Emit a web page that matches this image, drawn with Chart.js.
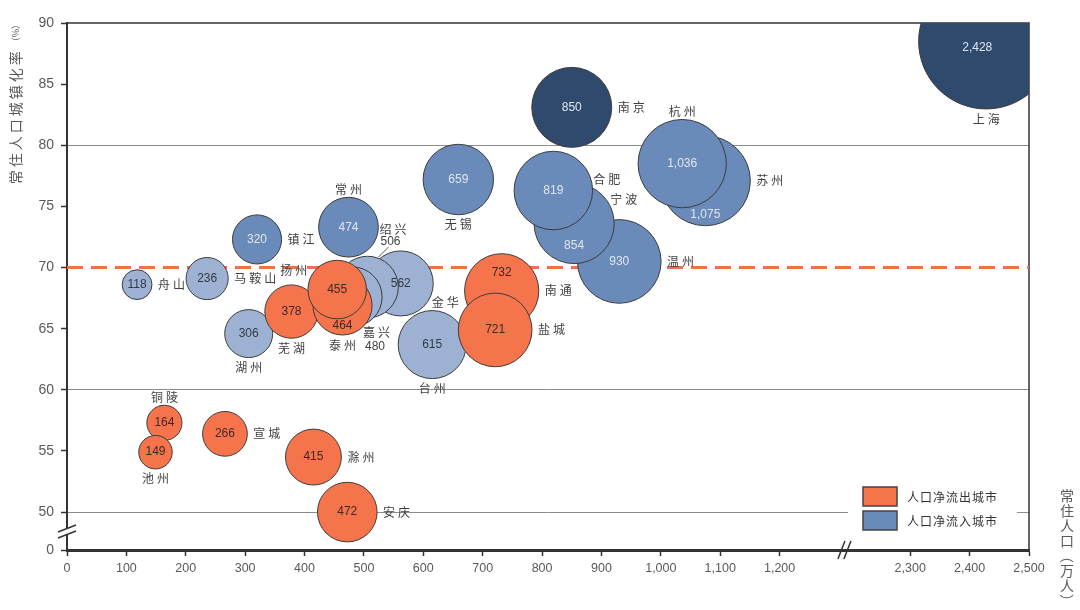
<!DOCTYPE html>
<html>
<head>
<meta charset="utf-8">
<script src="https://cdn.jsdelivr.net/npm/chart.js@4.4.1/dist/chart.umd.min.js"></script>
<style>
  body { margin: 0; background: #fff; }
  #wrap { width: 1080px; height: 610px; }
</style>
</head>
<body>
<div id="wrap"><canvas id="bubbleChart"></canvas></div>
<script>
// net outflow cities (orange)
const outCities = ['铜陵', '池州', '宣城', '滁州', '安庆', '芜湖', '泰州', '扬州', '南通', '盐城'];
const outPop = [164, 149, 266, 415, 472, 378, 464, 455, 732, 721];
const outRate = [57.3, 54.9, 56.4, 54.5, 50.0, 66.4, 66.9, 68.2, 68.1, 64.9];

// net inflow cities, mid blue
const inCities = ['镇江', '常州', '无锡', '温州', '宁波', '合肥', '苏州', '杭州'];
const inPop = [320, 474, 659, 930, 854, 819, 1075, 1036];
const inRate = [72.3, 73.3, 77.2, 70.5, 73.6, 76.3, 77.1, 78.5];

// net inflow cities, light blue
const lightCities = ['舟山', '马鞍山', '湖州', '台州', '金华', '绍兴', '嘉兴'];
const lightPop = [118, 236, 306, 615, 562, 506, 480];
const lightRate = [68.6, 69.1, 64.6, 63.7, 68.7, 68.4, 67.6];

// net inflow cities, dark
const topCities = ['南京', '上海'];
const topPop = [850, 2428];
const topRate = [83.1, 88.5];

const xTicks = [0, 100, 200, 300, 400, 500, 600, 700, 800, 900, 1000, 1100, 1200, 2300, 2400, 2500];
const yTicks = [0, 50, 55, 60, 65, 70, 75, 80, 85, 90];
const refRate = 70;

// broken axes: 1300..2180 hidden on x, 0..46.9 squeezed on y
const X_CUT = 1300, X_SHIFT = 880;
const Y_SHIFT = 46.9;
const xPos = v => v > X_CUT ? v - X_SHIFT : v;
const yPos = v => v === 0 ? 0 : v - Y_SHIFT;
const R_SCALE = 1.372;

const ORANGE = '#F5744C', MID = '#6A8AB9', LIGHT = '#9DB1D3', NAVY = '#304A6D';

function makePoints(pops, rates) {
    return pops.map((p, i) => ({ x: xPos(p), y: yPos(rates[i]), r: R_SCALE * Math.sqrt(p) }));
}

// label placement for city names
const namePlace = {
    '铜陵': 'top', '池州': 'bottom', '宣城': 'right', '滁州': 'right', '安庆': 'right',
    '芜湖': 'bottom', '泰州': 'bottom', '扬州': [-42, -19], '南通': 'right', '盐城': 'right',
    '舟山': 'right', '马鞍山': 'right', '湖州': 'bottom', '台州': 'bottom', '金华': [46, 19],
    '绍兴': [27, -58], '嘉兴': [26, 36],
    '镇江': 'right', '常州': 'top', '无锡': 'bottom', '温州': 'right', '宁波': [51, -24],
    '合肥': [55, -11], '苏州': 'right', '杭州': 'top', '南京': 'right', '上海': 'bottom'
};
const valueShift = { '泰州': [0, 20], '南通': [0, -18], '宁波': [0, 22], '苏州': [0, 34], '上海': [-9, 6] };
const valueOutside = { '绍兴': [23, -45], '嘉兴': [23, 50] };

const fmt = n => n.toLocaleString('en-US');

const labelPlugin = {
    id: 'bubbleLabels',
    afterDatasetsDraw(chart) {
        const ctx = chart.ctx;
        ctx.save();
        ctx.textBaseline = 'middle';
        chart.data.datasets.forEach((ds, di) => {
            const meta = chart.getDatasetMeta(di);
            meta.data.forEach((pt, i) => {
                const name = ds.names[i];
                const r = ds.data[i].r;
                const cx = pt.x, cy = pt.y;
                // value
                ctx.letterSpacing = '0px';
                ctx.font = '12px "Liberation Sans", Arial, sans-serif';
                if (valueOutside[name]) {
                    const o = valueOutside[name];
                    ctx.fillStyle = '#404040';
                    ctx.textAlign = 'center';
                    ctx.fillText(fmt(ds.pops[i]), cx + o[0], cy + o[1]);
                } else {
                    const s = valueShift[name] || [0, 0];
                    ctx.fillStyle = ds.textColor;
                    ctx.textAlign = 'center';
                    ctx.fillText(fmt(ds.pops[i]), cx + s[0], cy + s[1]);
                }
                // city name
                ctx.font = '12px "Noto Sans CJK SC", sans-serif';
                ctx.letterSpacing = '3px';
                ctx.fillStyle = '#404040';
                const p = namePlace[name];
                if (p === 'right') {
                    ctx.textAlign = 'left';
                    ctx.fillText(name, cx + r + 6, cy);
                } else if (p === 'top') {
                    ctx.textAlign = 'center';
                    ctx.fillText(name, cx + 1.5, cy - r - 8);
                } else if (p === 'bottom') {
                    ctx.textAlign = 'center';
                    ctx.fillText(name, cx + 1.5, cy + r + 10);
                } else {
                    ctx.textAlign = 'center';
                    ctx.fillText(name, cx + p[0], cy + p[1]);
                }
                if (name === '绍兴') {
                    ctx.strokeStyle = '#555';
                    ctx.lineWidth = 1;
                    ctx.beginPath();
                    ctx.moveTo(cx + 21, cy - 40);
                    ctx.lineTo(cx + 11, cy - 30);
                    ctx.stroke();
                }
            });
        });
        ctx.restore();
    }
};

const framePlugin = {
    id: 'frame',
    beforeDatasetsDraw(chart) {
        const { ctx, chartArea: a, scales } = chart;
        ctx.save();
        // top and right border
        ctx.strokeStyle = '#333';
        ctx.lineWidth = 1.5;
        ctx.beginPath();
        ctx.moveTo(a.left, a.top);
        ctx.lineTo(a.right, a.top);
        ctx.lineTo(a.right, a.bottom);
        ctx.stroke();
        // 70% reference line
        const y = scales.y.getPixelForValue(yPos(refRate));
        ctx.strokeStyle = '#F0714A';
        ctx.lineWidth = 3;
        ctx.setLineDash([16, 8]);
        ctx.beginPath();
        ctx.moveTo(a.left, y);
        ctx.lineTo(a.right, y);
        ctx.stroke();
        ctx.restore();
    },
    afterDraw(chart) {
        const { ctx, chartArea: a, scales } = chart;
        ctx.save();
        // y axis break
        const yb = (scales.y.getPixelForValue(yPos(50)) + a.bottom) / 2;
        ctx.fillStyle = '#fff';
        ctx.beginPath();
        ctx.moveTo(a.left - 9, yb + 1);
        ctx.lineTo(a.left + 9, yb - 6);
        ctx.lineTo(a.left + 9, yb);
        ctx.lineTo(a.left - 9, yb + 7);
        ctx.closePath();
        ctx.fill();
        ctx.strokeStyle = '#333';
        ctx.lineWidth = 1.5;
        ctx.beginPath();
        ctx.moveTo(a.left - 9, yb + 1); ctx.lineTo(a.left + 9, yb - 6);
        ctx.moveTo(a.left - 9, yb + 7); ctx.lineTo(a.left + 9, yb);
        ctx.stroke();
        // x axis break
        const xb = scales.x.getPixelForValue(X_CUT + 10);
        ctx.beginPath();
        ctx.moveTo(xb - 7, a.bottom + 9); ctx.lineTo(xb, a.bottom - 9);
        ctx.moveTo(xb - 1, a.bottom + 9); ctx.lineTo(xb + 6, a.bottom - 9);
        ctx.stroke();

        // legend
        ctx.fillStyle = '#fff';
        ctx.fillRect(848, 478, 169, 60);
        const items = [chart.data.datasets[0], chart.data.datasets[1]];
        ctx.font = '12px "Noto Sans CJK SC", sans-serif';
        ctx.letterSpacing = '1px';
        ctx.textBaseline = 'middle';
        ctx.textAlign = 'left';
        items.forEach((ds, i) => {
            const top = 487 + i * 24;
            ctx.fillStyle = ds.backgroundColor;
            ctx.fillRect(863, top, 34, 19);
            ctx.strokeStyle = '#444';
            ctx.lineWidth = 1.5;
            ctx.strokeRect(863, top, 34, 19);
            ctx.fillStyle = '#333';
            ctx.fillText(ds.label, 907, top + 10);
        });

        // y axis title
        ctx.fillStyle = '#595959';
        ctx.save();
        ctx.translate(16, 20);
        ctx.rotate(-Math.PI / 2);
        ctx.textAlign = 'right';
        ctx.letterSpacing = '0px';
        ctx.font = '9px "Noto Sans CJK SC", sans-serif';
        const unit = '（%）';
        const uw = ctx.measureText(unit).width;
        ctx.fillText(unit, 0, 0);
        ctx.font = '14px "Noto Sans CJK SC", sans-serif';
        ctx.letterSpacing = '3px';
        ctx.fillText('常住人口城镇化率', -uw - 2, 0);
        ctx.restore();

        // x axis title, vertical at right
        const xt = '常住人口（万人）';
        ctx.font = '14px "Noto Sans CJK SC", sans-serif';
        ctx.letterSpacing = '0px';
        ctx.textAlign = 'center';
        [...xt].forEach((ch, i) => {
            const cy = 496 + i * 15;
            if (ch === '（' || ch === '）') {
                ctx.save();
                ctx.translate(1067, cy);
                ctx.rotate(Math.PI / 2);
                ctx.fillText(ch, 0, 0);
                ctx.restore();
            } else {
                ctx.fillText(ch, 1067, cy);
            }
        });
        ctx.restore();
    }
};

new Chart(document.getElementById('bubbleChart'), {
    type: 'bubble',
    data: {
        datasets: [
            { label: '人口净流出城市', data: makePoints(outPop, outRate), names: outCities, pops: outPop,
              backgroundColor: ORANGE, textColor: '#3b2a26', order: 0 },
            { label: '人口净流入城市', data: makePoints(inPop, inRate), names: inCities, pops: inPop,
              backgroundColor: MID, textColor: '#dfe6f1', order: 1 },
            { label: '人口净流入城市 ', data: makePoints(lightPop, lightRate), names: lightCities, pops: lightPop,
              backgroundColor: LIGHT, textColor: '#333a46', order: 2 },
            { label: '人口净流入城市  ', data: makePoints(topPop, topRate), names: topCities, pops: topPop,
              backgroundColor: NAVY, textColor: '#dfe6f1', order: 3,
              clip: { left: false, top: 0, right: 0, bottom: false } }
        ].map(ds => Object.assign({ borderColor: '#3c3c3c', borderWidth: 1 }, ds))
    },
    options: {
        responsive: true,
        maintainAspectRatio: false,
        animation: false,
        events: [],
        layout: { autoPadding: false, padding: { left: 0, top: 23, right: 51, bottom: 0 } },
        plugins: { legend: { display: false }, tooltip: { enabled: false } },
        scales: {
            x: {
                type: 'linear',
                min: 0,
                max: xPos(2500),
                afterBuildTicks: s => { s.ticks = xTicks.map(v => ({ value: xPos(v) })); },
                afterFit: s => { s.height = 60; },
                ticks: {
                    autoSkip: false,
                    maxRotation: 0,
                    padding: 5,
                    color: '#595959',
                    font: { family: '"Liberation Sans", Arial, sans-serif', size: 12.5 },
                    callback: (v, i) => fmt(xTicks[i])
                },
                grid: { drawOnChartArea: false, tickColor: '#333', tickLength: 6, tickWidth: 1.5 },
                border: { color: '#333', width: 3 }
            },
            y: {
                type: 'linear',
                min: 0,
                max: yPos(90),
                afterBuildTicks: s => { s.ticks = yTicks.map(v => ({ value: yPos(v) })); },
                afterFit: s => { s.width = 67; },
                ticks: {
                    autoSkip: false,
                    padding: 7,
                    color: '#595959',
                    font: { family: '"Liberation Sans", Arial, sans-serif', size: 14 },
                    callback: (v, i) => yTicks[i]
                },
                grid: {
                    color: c => {
                        const real = Math.round(c.tick.value + Y_SHIFT);
                        return [50, 60, 80].includes(real) ? '#8c8c8c' : 'rgba(0,0,0,0)';
                    },
                    tickColor: '#333',
                    tickLength: 6,
                    tickWidth: 1.5
                },
                border: { color: '#333', width: 2 }
            }
        }
    },
    plugins: [framePlugin, labelPlugin]
});
</script>
</body>
</html>
